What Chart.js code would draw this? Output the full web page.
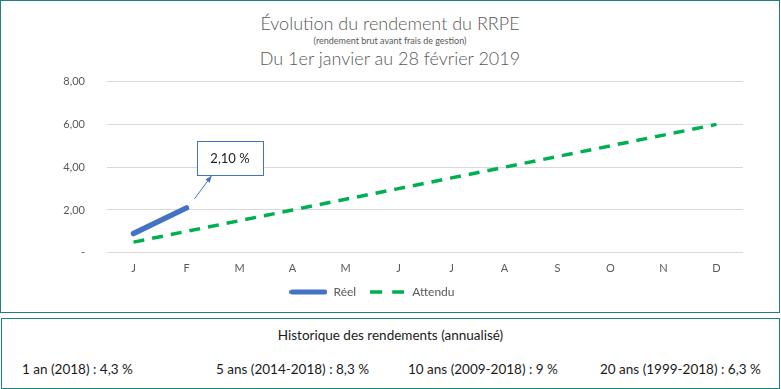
<!DOCTYPE html>
<html>
<head>
<meta charset="utf-8">
<script src="https://cdn.jsdelivr.net/npm/chart.js@4.4.0/dist/chart.umd.min.js"></script>
<style>
  html, body { margin: 0; padding: 0; background: #fff; }
  body { width: 781px; height: 389px; position: relative; font-family: 'Lato', sans-serif; }
  .box { position: absolute; border: 1px solid #1E8080; box-sizing: border-box; }
  #chartBox { left: 0; top: 0; width: 780px; height: 313px; }
  #histBox { left: 1px; top: 318px; width: 779px; height: 71px; color: #1a1a1a; font-size: 13.5px; }
  .head { position: absolute; left: 0; width: 100%; text-align: center; color: #595959; white-space: nowrap; }
  #canvasWrap { position: absolute; left: 0; top: 67px; width: 778px; height: 244px; }
  .hist { position: absolute; white-space: nowrap; }
</style>
</head>
<body>
<div class="box" id="chartBox">
  <div class="head" style="top: 11px; font-size: 18px; font-weight: 300;">Évolution du rendement du RRPE</div>
  <div class="head" style="top: 34px; font-size: 9px;">(rendement brut avant frais de gestion)</div>
  <div class="head" style="top: 46px; font-size: 18px; font-weight: 300;">Du 1er janvier au 28 février 2019</div>
  <div id="canvasWrap"><canvas id="rrpeChart"></canvas></div>
</div>
<div class="box" id="histBox">
  <div class="hist" style="left: 0; width: 100%; text-align: center; top: 8px;">Historique des rendements (annualisé)</div>
  <div class="hist" style="left: 20px; top: 42px;">1 an (2018) : 4,3 %</div>
  <div class="hist" style="left: 214px; top: 42px;">5 ans (2014-2018) : 8,3 %</div>
  <div class="hist" style="left: 406px; top: 42px;">10 ans (2009-2018) : 9 %</div>
  <div class="hist" style="left: 598px; top: 42px;">20 ans (1999-2018) : 6,3 %</div>
</div>
<script>
const months = ['J', 'F', 'M', 'A', 'M', 'J', 'J', 'A', 'S', 'O', 'N', 'D'];
const reelValues = [0.9, 2.10];
const attenduValues = [0.5, 1.0, 1.5, 2.0, 2.5, 3.0, 3.5, 4.0, 4.5, 5.0, 5.5, 6.0];
const yTicks = [0, 2, 4, 6, 8];

const colors = {
  reel: '#4472C4',
  attendu: '#00B050',
  text: '#595959',
  grid: '#D9D9D9'
};

const fmt = v => v.toFixed(2).replace('.', ',');

// little line samples for the legend (solid blue / dashed green)
function legendSample(color, width, len, dash) {
  const c = document.createElement('canvas');
  c.width = len;
  c.height = 8;
  const g = c.getContext('2d');
  g.strokeStyle = color;
  g.lineWidth = width;
  g.lineCap = dash ? 'butt' : 'round';
  g.setLineDash(dash || []);
  g.beginPath();
  g.moveTo(dash ? 0 : width / 2, 4);
  g.lineTo(dash ? len : len - width / 2, 4);
  g.stroke();
  return c;
}
const legendStyles = [
  legendSample(colors.reel, 5, 38),
  legendSample(colors.attendu, 3.5, 34, [12, 10])
];

// Callout "2,10 %" above the last real point
const calloutPlugin = {
  id: 'callout',
  afterDatasetsDraw(chart) {
    const meta = chart.getDatasetMeta(0);
    const idx = reelValues.length - 1;
    const pt = meta.data[idx];
    if (!pt) return;
    const ctx = chart.ctx;
    const x = pt.x, y = pt.y;
    ctx.save();
    const x1 = x + 8, y1 = y - 9, x2 = x + 25, y2 = y - 32;
    ctx.strokeStyle = colors.reel;
    ctx.fillStyle = colors.reel;
    ctx.lineWidth = 1;
    ctx.beginPath();
    ctx.moveTo(x1, y1);
    ctx.lineTo(x2, y2);
    ctx.stroke();
    const a = Math.atan2(y2 - y1, x2 - x1);
    ctx.beginPath();
    ctx.moveTo(x2, y2);
    ctx.lineTo(x2 - 7 * Math.cos(a - 0.4), y2 - 7 * Math.sin(a - 0.4));
    ctx.lineTo(x2 - 7 * Math.cos(a + 0.4), y2 - 7 * Math.sin(a + 0.4));
    ctx.closePath();
    ctx.fill();
    const bx = Math.round(x + 10), by = Math.round(y - 67), bw = 66, bh = 34;
    ctx.fillStyle = '#fff';
    ctx.fillRect(bx, by, bw, bh);
    ctx.strokeRect(bx + 0.5, by + 0.5, bw, bh);
    ctx.fillStyle = '#222';
    ctx.font = "13px 'Lato', sans-serif";
    ctx.textAlign = 'center';
    ctx.textBaseline = 'middle';
    ctx.fillText(fmt(reelValues[idx]) + ' %', bx + bw / 2, by + bh / 2 + 1);
    ctx.restore();
  }
};

Chart.defaults.font.family = "'Lato', sans-serif";
Chart.defaults.color = colors.text;

new Chart(document.getElementById('rrpeChart'), {
  type: 'line',
  data: {
    labels: months,
    datasets: [
      {
        label: 'Réel',
        data: reelValues,
        borderColor: colors.reel,
        backgroundColor: colors.reel,
        borderWidth: 5.5,
        borderCapStyle: 'round',
        pointRadius: 0,
        tension: 0
      },
      {
        label: 'Attendu',
        data: attenduValues,
        borderColor: colors.attendu,
        backgroundColor: colors.attendu,
        borderWidth: 3.5,
        borderDash: [11, 8],
        pointRadius: 0,
        tension: 0
      }
    ]
  },
  options: {
    responsive: true,
    maintainAspectRatio: false,
    animation: false,
    layout: { padding: { top: 0, right: 36, left: 0, bottom: 4 } },
    plugins: {
      legend: {
        position: 'bottom',
        labels: {
          usePointStyle: true,
          pointStyleWidth: 38,
          padding: 12,
          color: colors.text,
          font: { size: 12 },
          generateLabels: chart => {
            const items = Chart.defaults.plugins.legend.labels.generateLabels(chart);
            items.forEach((it, i) => { it.pointStyle = legendStyles[i]; });
            return items;
          }
        }
      },
      tooltip: { enabled: false }
    },
    scales: {
      x: {
        offset: true,
        afterFit: s => { s.height = s.height - 10; },
        grid: { display: false, drawTicks: false },
        border: { display: false },
        ticks: { font: { size: 11 }, color: colors.text, padding: 9 }
      },
      y: {
        min: 0,
        max: 8,
        afterBuildTicks: s => { s.ticks = yTicks.map(v => ({ value: v })); },
        afterFit: s => { s.width = 106; },
        border: { display: false },
        grid: { color: colors.grid, drawTicks: true, tickLength: 15, tickColor: 'transparent' },
        ticks: {
          padding: 7,
          font: { size: 11 },
          color: colors.text,
          callback: v => v === 0 ? '-' : fmt(v)
        }
      }
    }
  },
  plugins: [calloutPlugin]
});
</script>
</body>
</html>
